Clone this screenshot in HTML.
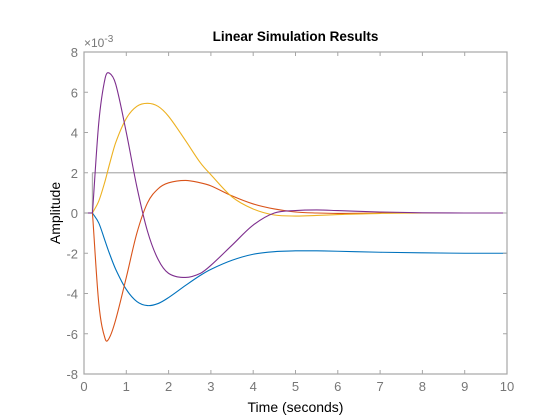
<!DOCTYPE html>
<html><head><meta charset="utf-8"><style>
body{margin:0;background:#fff;}
svg{display:block;font-family:"Liberation Sans",Arial,sans-serif;}
</style></head><body>
<svg id="chart" width="560" height="420" viewBox="0 0 560 420" xmlns="http://www.w3.org/2000/svg">
<rect width="560" height="420" fill="#fff"/>
<g id="series"></g>
<g id="axes"></g>
<text x="295.5" y="41" text-anchor="middle" font-size="13.5" font-weight="bold" fill="#000">Linear Simulation Results</text>
<text x="295.5" y="412" text-anchor="middle" font-size="14" fill="#000">Time (seconds)</text>
<text transform="translate(60,213) rotate(-90)" text-anchor="middle" font-size="14" fill="#000">Amplitude</text>
<text x="84" y="47" font-size="12" fill="#777">×10<tspan dy="-5" font-size="10">-3</tspan></text>
</svg>
<script>
const times=[0,0.2,0.35,0.5,0.6,0.75,1,1.25,1.5,1.75,2,2.4,2.75,3,3.5,4,4.5,5,5.5,6,7,8,9,10];
const blueVals=[0,0,-0.5,-1.4,-2,-2.8,-3.8,-4.4,-4.6,-4.5,-4.2,-3.6,-3.1,-2.8,-2.35,-2.05,-1.92,-1.88,-1.88,-1.9,-1.95,-1.98,-2,-2];
const orangeVals=[0,0,-4.5,-6.25,-6.2,-5.3,-3.2,-1.0,0.5,1.2,1.5,1.62,1.5,1.35,0.85,0.45,0.2,0.05,0,-0.02,0,0,0,0];
const yellowVals=[0,0,0.6,1.6,2.4,3.5,4.7,5.3,5.45,5.3,4.8,3.6,2.5,1.9,0.8,0.2,-0.1,-0.15,-0.12,-0.08,-0.02,0,0,0];
const purpleVals=[0,0,4.5,6.7,6.95,6.4,4.0,1.3,-0.9,-2.3,-3.0,-3.2,-3.0,-2.6,-1.6,-0.6,0,0.12,0.15,0.12,0.05,0.01,0,0];
const inputTimes=[0,0.2,0.2,10];
const inputVals=[0,0,2,2];
const xTicks=[0,1,2,3,4,5,6,7,8,9,10];
const yTicks=[-8,-6,-4,-2,0,2,4,6,8];
const X0=84,X1=507,Y0=374,Y1=52;
const sx=t=>X0+(t-0)/(10-0)*(X1-X0);
const sy=v=>Y0-(v+8)/16*(Y0-Y1);
const NS="http://www.w3.org/2000/svg";
function mk(tag,attrs,parent){const e=document.createElementNS(NS,tag);for(const k in attrs)e.setAttribute(k,attrs[k]);parent.appendChild(e);return e;}
function smoothPath(ts,vs){
  const n=ts.length,d=[],m=new Array(n).fill(0);
  for(let i=0;i<n-1;i++)d.push((vs[i+1]-vs[i])/(ts[i+1]-ts[i]));
  m[0]=d[0];m[n-1]=d[n-2];
  for(let i=1;i<n-1;i++){
    if(d[i-1]===0&&d[i]!==0)m[i]=d[i];
    else if(d[i]===0&&d[i-1]!==0)m[i]=d[i-1];
    else m[i]=(vs[i+1]-vs[i-1])/(ts[i+1]-ts[i-1]);
  }
  let s="M"+sx(ts[0])+","+sy(vs[0]);
  for(let i=0;i<n-1;i++){
    const h=ts[i+1]-ts[i];
    if(d[i]===0){s+=" L"+sx(ts[i+1])+","+sy(vs[i+1]);continue;}
    const c1t=ts[i]+h/3,c1v=vs[i]+m[i]*h/3;
    const c2t=ts[i+1]-h/3,c2v=vs[i+1]-m[i+1]*h/3;
    s+=" C"+sx(c1t)+","+sy(c1v)+" "+sx(c2t)+","+sy(c2v)+" "+sx(ts[i+1])+","+sy(vs[i+1]);
  }
  return s;
}
const series=document.getElementById("series");
const inp=mk("path",{d:"M"+inputTimes.map((t,i)=>sx(t)+","+sy(inputVals[i])).join(" L"),fill:"none",stroke:"#b0b0b0","stroke-width":1.3},series);


const defs=[["output-1-blue",blueVals,"#0072BD"],["output-2-orange",orangeVals,"#D95319"],["output-3-yellow",yellowVals,"#EDB120"],["output-4-purple",purpleVals,"#7E2F8E"]];
defs.forEach(([n,vals,c])=>{
  const el=mk("path",{d:smoothPath(times,vals),fill:"none",stroke:c,"stroke-width":1.1},series);
  
  
});
const axes=document.getElementById("axes");
const box=mk("rect",{x:X0,y:Y1,width:X1-X0,height:Y0-Y1,fill:"none",stroke:"#a6a6a6","stroke-width":1.2},axes);


xTicks.forEach(t=>{
  const x=sx(t);
  mk("line",{x1:x,y1:Y0,x2:x,y2:Y0-4,stroke:"#a6a6a6"},axes);
  mk("line",{x1:x,y1:Y1,x2:x,y2:Y1+4,stroke:"#a6a6a6"},axes);
  const tx=mk("text",{x:x,y:Y0+17,"text-anchor":"middle","font-size":13,fill:"#777"},axes);
  tx.textContent=t;
  
  
});
yTicks.forEach(v=>{
  const y=sy(v);
  mk("line",{x1:X0,y1:y,x2:X0+4,y2:y,stroke:"#a6a6a6"},axes);
  mk("line",{x1:X1,y1:y,x2:X1-4,y2:y,stroke:"#a6a6a6"},axes);
  const tx=mk("text",{x:X0-6,y:y+5,"text-anchor":"end","font-size":13,fill:"#777"},axes);
  tx.textContent=v;
  
  
});
</script>
</body></html>
